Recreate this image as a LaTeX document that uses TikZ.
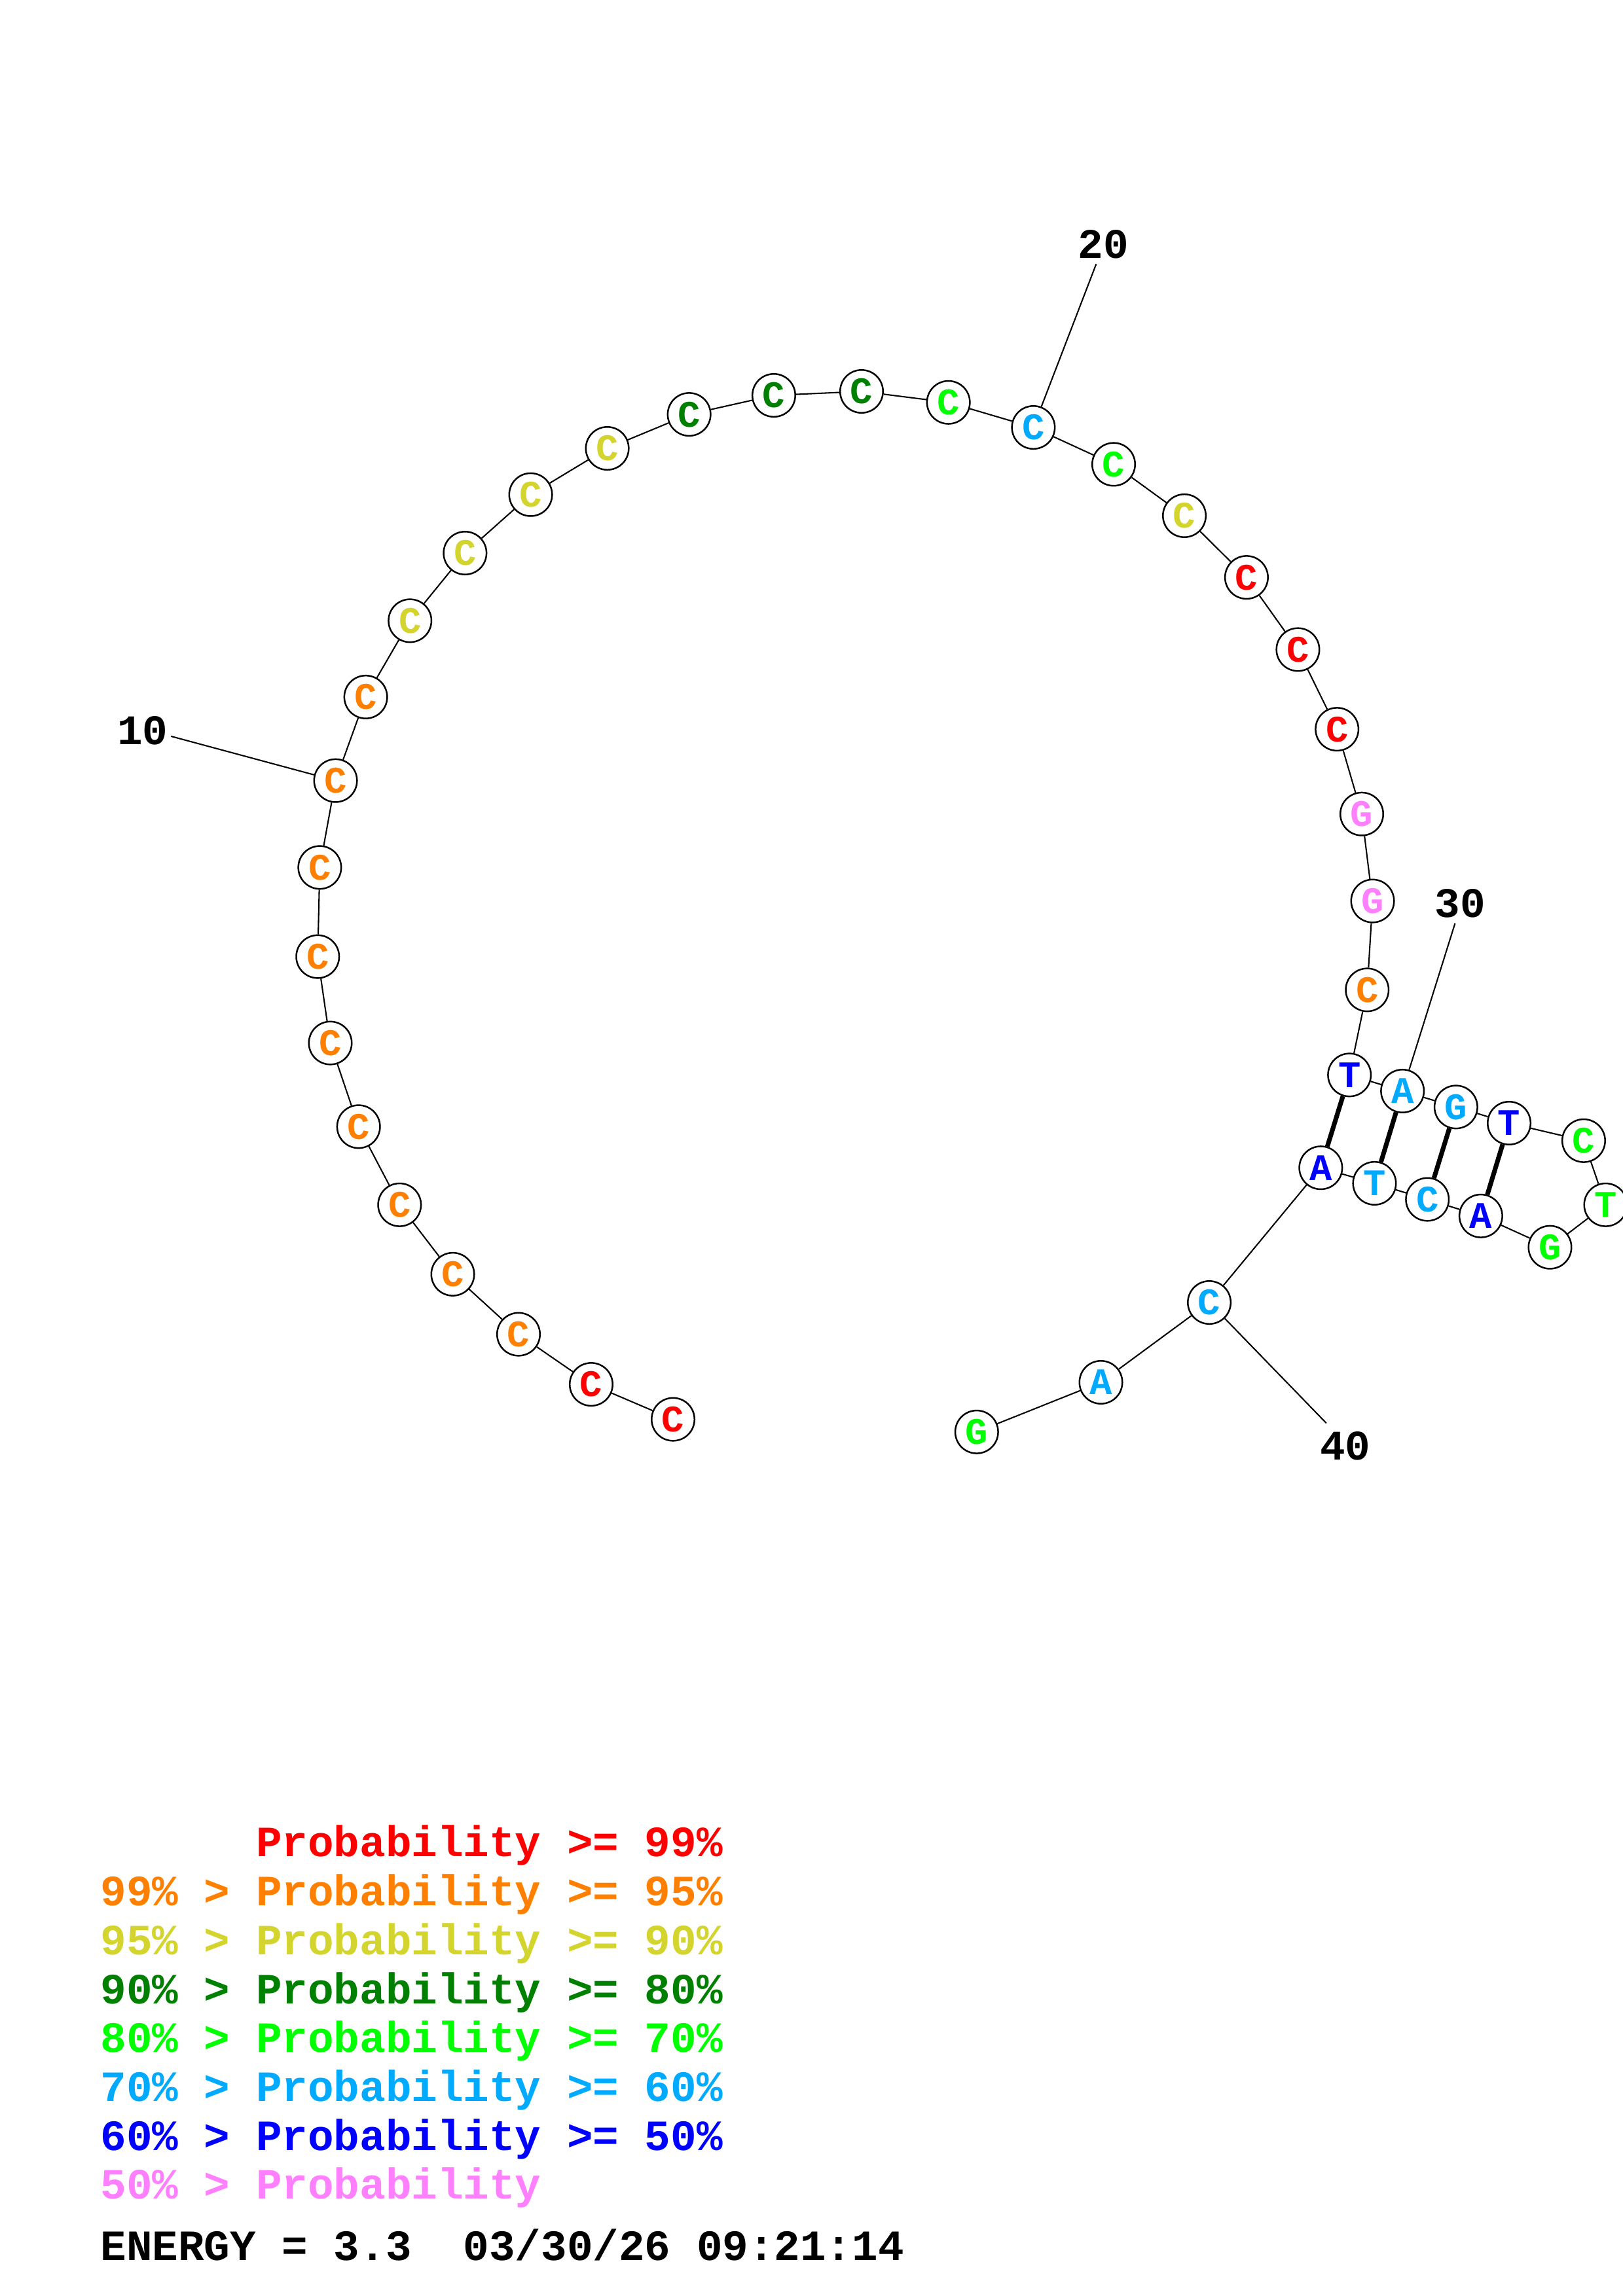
\documentclass[tikz,border=0pt]{standalone}
\usepackage{fontspec}
\newfontfamily\cour{Liberation Mono}
\definecolor{cred}{RGB}{255,0,0}
\definecolor{corange}{RGB}{255,128,0}
\definecolor{cyellow}{RGB}{212,212,46}
\definecolor{cdkgreen}{RGB}{0,128,0}
\definecolor{cgreen}{RGB}{0,255,0}
\definecolor{cltblue}{RGB}{0,170,255}
\definecolor{cblue}{RGB}{0,0,255}
\definecolor{cpink}{RGB}{255,128,255}
\tikzset{
  base/.style={circle, draw=black, line width=0.6pt, minimum size=0.555cm, inner sep=0pt, fill=white,
    font=\cour\bfseries\fontsize{13.8}{14}\selectfont},
  bb/.style={line width=0.5pt},
  pairline/.style={line width=1.7pt},
  numlab/.style={font=\cour\bfseries\fontsize{15.5}{16}\selectfont, inner sep=0pt},
  leg/.style={anchor=base west, inner sep=0pt, font=\cour\bfseries\fontsize{15.9}{16}\selectfont}
}
\begin{document}
\begin{tikzpicture}[x=0.018953cm, y=-0.018953cm]
\useasboundingbox (0,0) rectangle (1108,1568);
% nucleotides
\node[base, text=cred]     (v1)  at (459.5,969.3) {C};
\node[base, text=cred]     (v2)  at (403.6,945.4) {C};
\node[base, text=corange]  (v3)  at (354.0,911.2) {C};
\node[base, text=corange]  (v4)  at (309.1,870.2) {C};
\node[base, text=corange]  (v5)  at (272.8,822.8) {C};
\node[base, text=corange]  (v6)  at (244.8,769.4) {C};
\node[base, text=corange]  (v7)  at (225.5,712.3) {C};
\node[base, text=corange]  (v8)  at (216.9,653.3) {C};
\node[base, text=corange]  (v9)  at (218.3,592.4) {C};
\node[base, text=corange]  (v10) at (229.1,533.1) {C};
\node[base, text=corange]  (v11) at (249.7,476.0) {C};
\node[base, text=cyellow]  (v12) at (279.9,423.9) {C};
\node[base, text=cyellow]  (v13) at (317.5,377.7) {C};
\node[base, text=cyellow]  (v14) at (362.3,337.8) {C};
\node[base, text=cyellow]  (v15) at (414.6,306.2) {C};
\node[base, text=cdkgreen] (v16) at (470.5,283.0) {C};
\node[base, text=cdkgreen] (v17) at (528.3,270.0) {C};
\node[base, text=cdkgreen] (v18) at (588.2,267.3) {C};
\node[base, text=cgreen]   (v19) at (647.5,274.8) {C};
\node[base, text=cltblue]  (v20) at (705.5,291.9) {C};
\node[base, text=cgreen]   (v21) at (760.3,317.1) {C};
\node[base, text=cyellow]  (v22) at (808.6,352.2) {C};
\node[base, text=cred]     (v23) at (851.0,394.3) {C};
\node[base, text=cred]     (v24) at (886.1,443.6) {C};
\node[base, text=cred]     (v25) at (912.8,498.0) {C};
\node[base, text=cpink]    (v26) at (929.7,555.9) {G};
\node[base, text=cpink]    (v27) at (937.1,615.3) {G};
\node[base, text=corange]  (v28) at (933.4,676.0) {C};
\node[base, text=cblue]    (v29) at (921.3,734.1) {T};
\node[base, text=cltblue]  (v30) at (957.5,745.1) {A};
\node[base, text=cltblue]  (v31) at (994.0,756.0) {G};
\node[base, text=cblue]    (v32) at (1030.3,767.0) {T};
\node[base, text=cgreen]   (v33) at (1081.2,779.0) {C};
\node[base, text=cgreen]   (v34) at (1096.2,822.8) {T};
\node[base, text=cgreen]   (v35) at (1058.2,851.8) {G};
\node[base, text=cblue]    (v36) at (1011.0,830.4) {A};
\node[base, text=cltblue]  (v37) at (974.5,819.1) {C};
\node[base, text=cltblue]  (v38) at (938.4,808.1) {T};
\node[base, text=cblue]    (v39) at (901.7,797.5) {A};
\node[base, text=cltblue]  (v40) at (825.6,889.5) {C};
\node[base, text=cltblue]  (v41) at (751.6,944.0) {A};
\node[base, text=cgreen]   (v42) at (666.8,977.9) {G};
% backbone
\foreach \i [evaluate=\i as \j using int(\i+1)] in {1,...,41}
  \draw[bb] (v\i) -- (v\j);
% base pairs
\draw[pairline] (v29) -- (v39);
\draw[pairline] (v30) -- (v38);
\draw[pairline] (v31) -- (v37);
\draw[pairline] (v32) -- (v36);
% numbering
\node[numlab] (n10) at (97.4,498.8) {10};
\coordinate (c10) at (116.7,502.8);
\draw[bb] (c10) -- (v10);
\node[numlab] (n20) at (753.3,166.7) {20};
\coordinate (c20) at (748.4,180.3);
\draw[bb] (c20) -- (v20);
\node[numlab] (n30) at (996.9,616.8) {30};
\coordinate (c30) at (993.4,630.5);
\draw[bb] (c30) -- (v30);
\node[numlab] (n40) at (918.5,987.7) {40};
\coordinate (c40) at (905.5,971.9);
\draw[bb] (c40) -- (v40);
% legend
\node[leg, text=cred]     (g1) at (68.3,1268.0) {\hphantom{99\% > }Probability >= 99\%};
\node[leg, text=corange]  (g2) at (68.3,1301.4) {99\% > Probability >= 95\%};
\node[leg, text=cyellow]  (g3) at (68.3,1334.8) {95\% > Probability >= 90\%};
\node[leg, text=cdkgreen] (g4) at (68.3,1368.2) {90\% > Probability >= 80\%};
\node[leg, text=cgreen]   (g5) at (68.3,1401.6) {80\% > Probability >= 70\%};
\node[leg, text=cltblue]  (g6) at (68.3,1435.0) {70\% > Probability >= 60\%};
\node[leg, text=cblue]    (g7) at (68.3,1468.4) {60\% > Probability >= 50\%};
\node[leg, text=cpink]    (g8) at (68.3,1501.8) {50\% > Probability};
\node[leg, text=black]    (g9) at (68.3,1543.5) {ENERGY = 3.3\ \ 03/30/26 09:21:14};
\end{tikzpicture}
\end{document}
